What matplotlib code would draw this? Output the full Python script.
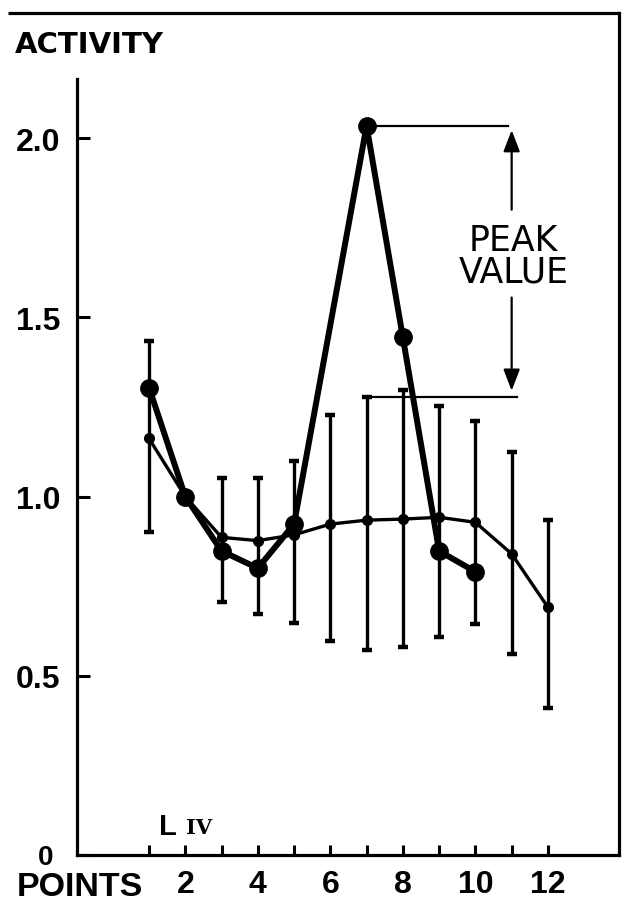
import numpy as np
import matplotlib
matplotlib.use("Agg")
import matplotlib.pyplot as plt
from matplotlib.lines import Line2D
from matplotlib.transforms import ScaledTranslation
from matplotlib import font_manager

# ---- data ----
points = [1, 2, 3, 4, 5, 6, 7, 8, 9, 10, 11, 12]
mean_activity = [1.162, 1.0, 0.886, 0.877, 0.893, 0.923, 0.934, 0.937, 0.942, 0.928, 0.840, 0.691]
err_upper = [1.434, np.nan, 1.051, 1.051, 1.100, 1.228, 1.277, 1.298, 1.252, 1.211, 1.123, 0.935]
err_lower = [0.900, np.nan, 0.707, 0.671, 0.646, 0.596, 0.573, 0.581, 0.609, 0.644, 0.561, 0.409]

case_points = [1, 2, 3, 4, 5, 7, 8, 9, 10]
case_activity = [1.304, 1.0, 0.848, 0.800, 0.923, 2.034, 1.444, 0.848, 0.790]

xtick_pos = list(range(1, 13))
xtick_labels = ['', '2', '', '4', '', '6', '', '8', '', '10', '', '12']
ytick_pos = [0, 0.5, 1.0, 1.5, 2.0]
ytick_labels = ['0', '0.5', '1.0', '1.5', '2.0']

available = {f.name for f in font_manager.fontManager.ttflist}
if 'Liberation Sans Narrow' in available:
    num_font, num_size = 'Liberation Sans Narrow', 26
else:
    num_font, num_size = 'Liberation Sans', 23

W, H = 622, 904
fig = plt.figure(figsize=(W / 100, H / 100), dpi=100)
L, R, B, T = 77, 619, 856, 14
ax = fig.add_axes([L / W, 1 - B / H, (R - L) / W, (B - T) / H])
ax.set_xlim(-0.985, 13.96)
ax.set_ylim(0, (B - T) / 358.5)

m = np.array(mean_activity)
hi = np.array(err_upper)
lo = np.array(err_lower)
ax.errorbar(points, m, yerr=[m - lo, hi - m], fmt='o-', color='black',
            lw=2.4, ms=7, elinewidth=2.4, capsize=3.5, capthick=3.2, zorder=3)
ax.plot(case_points, case_activity, 'o-', color='black', lw=4.3, ms=12.5,
        solid_joinstyle='round', zorder=4)

# peak annotation
peak_i = int(np.argmax(case_activity))
peak_x, peak_y = case_points[peak_i], case_activity[peak_i]
base_y = err_upper[points.index(peak_x)]
ax.plot([peak_x, 10.9], [peak_y, peak_y], color='black', lw=1.6, zorder=2)
ax.plot([peak_x - 0.1, 11.15], [base_y, base_y], color='black', lw=1.6, zorder=2)
arrow_kw = dict(arrowstyle='-|>,head_length=1.3,head_width=0.5', color='black', lw=1.6,
                shrinkA=0, shrinkB=0)
ax.annotate('', xy=(11.0, peak_y - 0.012), xytext=(11.0, 1.80), arrowprops=arrow_kw)
ax.annotate('', xy=(11.0, base_y + 0.018), xytext=(11.0, 1.555), arrowprops=arrow_kw)
ax.text(11.05, 1.672, 'PEAK\nVALUE', ha='center', va='center', fontsize=25,
        family='DejaVu Sans', linespacing=0.92)

# layer marker
ax.text(1.52, 0.081, 'L', ha='center', va='center', fontsize=21,
        family=num_font, fontweight='bold')
ax.text(2.39, 0.077, 'IV', ha='center', va='center', fontsize=15,
        family='DejaVu Serif', fontweight='bold')

# axes styling
ax.spines['top'].set_visible(False)
for s in ['left', 'bottom', 'right']:
    ax.spines[s].set_linewidth(2.3)
ax.spines['left'].set_bounds(0, 2.165)
ax.set_xticks(xtick_pos)
ax.set_xticklabels(xtick_labels)
ax.set_yticks(ytick_pos)
ax.set_yticklabels(ytick_labels)
ax.tick_params(axis='x', direction='in', length=7, width=2.2, pad=10)
ax.tick_params(axis='y', direction='in', length=9, width=2.2, pad=12)
for lab in ax.get_xticklabels() + ax.get_yticklabels():
    lab.set_family(num_font)
    lab.set_fontweight('bold')
    lab.set_fontsize(num_size)
zero_lab = ax.get_yticklabels()[0]
zero_lab.set_fontsize(20)
zero_lab.set_transform(zero_lab.get_transform() + ScaledTranslation(-0.07, 0.01, fig.dpi_scale_trans))

# top frame line extending left
fig.add_artist(Line2D([8 / W, (R + 1) / W], [1 - T / H, 1 - T / H], color='black',
                      lw=2.3, transform=fig.transFigure, solid_capstyle='butt'))

fig.text(15 / W, 1 - 53 / H, 'ACTIVITY', ha='left', va='baseline', fontsize=21,
         family='DejaVu Sans', fontweight='bold')
fig.text(143 / W, 1 - 896 / H, 'POINTS', ha='right', va='baseline', fontsize=24.5,
         family=['Liberation Sans', 'DejaVu Sans'], fontweight='bold')

fig.savefig('out.png', dpi=100)
